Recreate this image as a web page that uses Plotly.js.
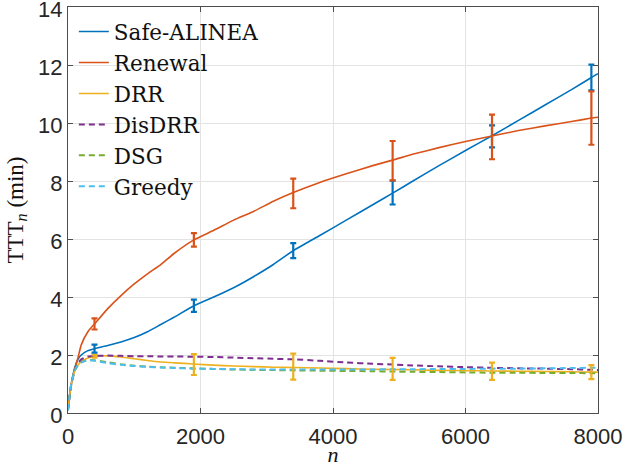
<!DOCTYPE html>
<html>
<head>
<meta charset="utf-8">
<script src="https://cdn.plot.ly/plotly-3.0.1.min.js"></script>
<style>html,body{margin:0;padding:0;background:#fff;}#chart{width:624px;height:467px;}</style>
</head>
<body>
<div id="chart"></div>
<script>
// ---- data ----
const nGrid = [0, 25, 50, 100, 150, 200, 300, 400, 600, 800, 1000, 1200, 1400, 1600, 1900, 2200, 2500, 2800, 3100, 3400, 3800, 4200, 4600, 4900, 5200, 5600, 6000, 6400, 6800, 7200, 7600, 7900, 8000];

const safeAlinea = [0.1, 0.6, 1.0, 1.55, 1.85, 2.0, 2.15, 2.22, 2.33, 2.45, 2.6, 2.8, 3.05, 3.3, 3.7, 4.0, 4.32, 4.7, 5.12, 5.6, 6.12, 6.65, 7.18, 7.58, 7.99, 8.53, 9.05, 9.56, 10.09, 10.62, 11.15, 11.57, 11.7];
const renewal    = [0.1, 0.6, 1.0, 1.5, 1.9, 2.35, 2.8, 3.07, 3.6, 4.05, 4.45, 4.8, 5.12, 5.5, 5.97, 6.3, 6.65, 6.95, 7.3, 7.6, 7.95, 8.25, 8.53, 8.72, 8.92, 9.15, 9.36, 9.55, 9.74, 9.9, 10.05, 10.17, 10.2];
const drr        = [0.1, 0.6, 1.0, 1.45, 1.65, 1.78, 1.9, 1.96, 1.97, 1.93, 1.87, 1.81, 1.76, 1.73, 1.69, 1.65, 1.62, 1.6, 1.58, 1.57, 1.55, 1.53, 1.51, 1.5, 1.49, 1.47, 1.46, 1.45, 1.44, 1.43, 1.42, 1.41, 1.41];
const disDrr     = [0.1, 0.6, 1.0, 1.45, 1.7, 1.85, 1.95, 1.97, 1.98, 1.97, 1.96, 1.96, 1.95, 1.95, 1.94, 1.93, 1.91, 1.89, 1.87, 1.85, 1.8, 1.74, 1.7, 1.67, 1.64, 1.61, 1.58, 1.56, 1.54, 1.53, 1.51, 1.49, 1.48];
const dsg        = [0.1, 0.6, 1.0, 1.45, 1.65, 1.75, 1.83, 1.82, 1.75, 1.68, 1.63, 1.6, 1.58, 1.56, 1.54, 1.52, 1.5, 1.49, 1.48, 1.47, 1.46, 1.45, 1.44, 1.43, 1.42, 1.41, 1.4, 1.39, 1.39, 1.38, 1.38, 1.37, 1.37];
const greedy     = [0.1, 0.6, 1.0, 1.45, 1.65, 1.74, 1.82, 1.8, 1.72, 1.66, 1.62, 1.59, 1.57, 1.55, 1.53, 1.52, 1.51, 1.5, 1.5, 1.5, 1.5, 1.5, 1.5, 1.51, 1.51, 1.52, 1.52, 1.53, 1.53, 1.54, 1.55, 1.56, 1.56];

// error-bar positions, centres and half-widths
const errN         = [400, 1900, 3400, 4900, 6400, 7900];
const safeErrMid   = [2.22, 3.70, 5.60, 7.60, 9.54, 11.57];
const safeErrHalf  = [0.14, 0.21, 0.26, 0.41, 0.38, 0.44];
const renewErrMid  = [3.07, 5.97, 7.57, 8.70, 9.52, 10.17];
const renewErrHalf = [0.19, 0.23, 0.51, 0.68, 0.77, 0.92];
const drrErrMid    = [1.96, 1.67, 1.60, 1.52, 1.44, 1.41];
const drrErrHalf   = [0.05, 0.36, 0.45, 0.38, 0.30, 0.24];

const seriesNames = ['Safe-ALINEA', 'Renewal', 'DRR', 'DisDRR', 'DSG', 'Greedy'];
const xTicks = [0, 2000, 4000, 6000, 8000];
const yTicks = [0, 2, 4, 6, 8, 10, 12, 14];

// ---- styling ----
const C = ['#0072BD', '#D95319', '#EDB120', '#7E2F8E', '#77AC30', '#4DBEEE'];
const serif = '"Liberation Serif", "DejaVu Serif", serif';
const legendSerif = '"DejaVu Serif", "Liberation Serif", serif';
const sans = '"Liberation Sans", Arial, sans-serif';

function lineTrace(y, i, dashed) {
  return {
    x: nGrid, y: y, type: 'scatter', mode: 'lines', name: seriesNames[i],
    line: {color: C[i], width: dashed ? 2 : 1.6, dash: dashed ? '6px,4px' : 'solid', shape: 'spline', smoothing: 0.5},
    hoverinfo: 'skip'
  };
}
function errTrace(mid, half, i) {
  return {
    x: errN, y: mid, type: 'scatter', mode: 'markers', showlegend: false,
    marker: {size: 1, color: 'rgba(0,0,0,0)'},
    error_y: {type: 'data', array: half, visible: true, color: C[i], thickness: 2.2, width: 3},
    hoverinfo: 'skip'
  };
}

const data = [
  lineTrace(safeAlinea, 0, false),
  lineTrace(renewal, 1, false),
  lineTrace(drr, 2, false),
  lineTrace(disDrr, 3, true),
  lineTrace(dsg, 4, true),
  lineTrace(greedy, 5, true),
  errTrace(drrErrMid, drrErrHalf, 2),
  errTrace(safeErrMid, safeErrHalf, 0),
  errTrace(renewErrMid, renewErrHalf, 1)
];

const axisCommon = {
  showline: true, mirror: 'ticks', linecolor: '#4d4d4d', linewidth: 1,
  ticks: 'inside', ticklen: 5, tickcolor: '#4d4d4d', tickwidth: 1,
  showgrid: true, gridcolor: '#e3e3e3', gridwidth: 1, zeroline: false,
  ticklabeloverflow: 'allow',
  tickfont: {family: sans, size: 22, color: '#262626'}
};

const layout = {
  width: 624, height: 467,
  margin: {l: 68, r: 26, t: 7, b: 54},
  paper_bgcolor: '#ffffff', plot_bgcolor: '#ffffff',
  showlegend: true,
  legend: {
    x: 0.011, y: 0.99, xanchor: 'left', yanchor: 'top',
    bgcolor: 'rgba(0,0,0,0)', borderwidth: 0,
    font: {family: legendSerif, size: 21.5, color: '#111'},
    tracegroupgap: 0, itemwidth: 30
  },
  xaxis: Object.assign({}, axisCommon, {
    range: [0, 8000], tickvals: xTicks, ticktext: xTicks.map(String),
    ticklabelstandoff: 4,
    title: {text: '<i>n</i>', font: {family: serif, size: 22, color: '#111'}, standoff: 4}
  }),
  yaxis: Object.assign({}, axisCommon, {
    range: [0, 14], tickvals: yTicks, ticktext: yTicks.map(String),
    ticklabelshift: 2,
    title: {text: 'TTT<sub><i>n</i></sub> (min)', font: {family: serif, size: 23, color: '#111'}, standoff: 8}
  })
};

Plotly.newPlot('chart', data, layout, {displayModeBar: false, staticPlot: true});
</script>
</body>
</html>
